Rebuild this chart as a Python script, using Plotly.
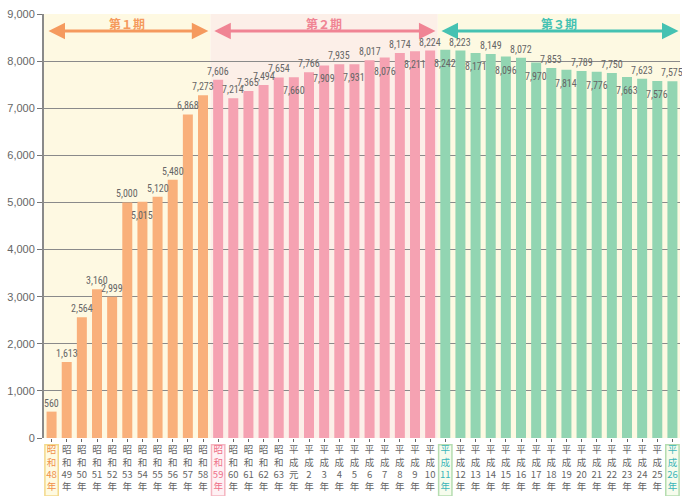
import plotly.graph_objects as go

# ---- data ----
eras = ["昭和"] * 16 + ["平成"] * 26
years = [str(y) for y in range(48, 64)] + ["元"] + [str(y) for y in range(2, 27)]
values = [560, 1613, 2564, 3160, 2999, 5000, 5015, 5120, 5480, 6868, 7273,
          7606, 7214, 7365, 7494, 7654, 7660, 7766, 7909, 7935, 7931, 8017, 8076, 8174, 8211, 8224,
          8242, 8223, 8171, 8149, 8096, 8072, 7970, 7853, 7814, 7789, 7776, 7750, 7663, 7623, 7576, 7575]
period_names = ["第１期", "第２期", "第３期"]
period_lengths = [11, 15, 16]
# label position: 1 = above bar top, 0 = below bar top
label_above = [1, 1, 1, 1, 1, 1, 0, 1, 1, 1, 1,
               1, 1, 1, 1, 1, 0, 1, 0, 1, 0, 1, 0, 1, 0, 1,
               0, 1, 0, 1, 0, 1, 0, 1, 0, 1, 0, 1, 0, 1, 0, 1]
highlight = {0: "#F0904A", 11: "#EE7088", 26: "#3BB5B8", 41: "#3BB5B8"}

# ---- styles ----
bar_colors_p = ["#F9B07B", "#F5A2B2", "#92D5B2"]
bg_colors_p = ["#FEF9E2", "#FCEFE8", "#FDF9E2"]
arrow_colors_p = ["#F59A5E", "#F08494", "#45C2B2"]
box_colors = {0: ("#F3D98A", "rgba(254,246,205,0.6)"), 11: ("#F5B5C0", "rgba(253,232,236,0.6)"),
              26: ("#B5DDB0", "rgba(240,250,225,0.6)"), 41: ("#B5DDB0", "rgba(240,250,225,0.6)")}
label_font = dict(family="Liberation Sans Narrow, Roboto Condensed, Liberation Sans", size=10, color="#666666")

n = len(values)
x = list(range(n))
period_of = []
for p, L in enumerate(period_lengths):
    period_of += [p] * L

ticktext = []
for i, (e, yv) in enumerate(zip(eras, years)):
    parts = [e[0], e[1], yv, "年"]
    if i in highlight:
        parts = [f'<span style="color:{highlight[i]}">{s}</span>' for s in parts]
    ticktext.append("<br>".join(parts))

fig = go.Figure()
fig.add_trace(go.Bar(
    x=x, y=values,
    marker=dict(color=[bar_colors_p[p] for p in period_of], line=dict(width=0)),
    width=0.66, hoverinfo="skip", showlegend=False,
))

shapes = []
annotations = []
start = 0
for p, L in enumerate(period_lengths):
    x0, x1 = start - 0.5, start + L - 0.5
    shapes.append(dict(type="rect", xref="x", yref="paper", x0=x0, x1=x1, y0=0, y1=1,
                       fillcolor=bg_colors_p[p], line=dict(width=0), layer="below"))
    ax0 = x0 + (0.2 if p == 0 else 0.15)
    ax1 = x1 - (0.15 if p < 2 else 0.1)
    annotations.append(dict(x=ax1, y=8640, ax=ax0, ay=8640, xref="x", yref="y", axref="x", ayref="y",
                            text="", showarrow=True, arrowhead=2, arrowside="end+start",
                            arrowsize=1.1, arrowwidth=3, arrowcolor=arrow_colors_p[p]))
    annotations.append(dict(x=(x0 + x1) / 2, y=8800, xref="x", yref="y", text=f"<b>{period_names[p]}</b>",
                            showarrow=False, font=dict(family="Noto Sans CJK JP", size=12, color=arrow_colors_p[p])))
    start += L

for i, (v, a) in enumerate(zip(values, label_above)):
    annotations.append(dict(x=i, y=v, xref="x", yref="y", text=f"{v:,}", showarrow=False,
                            yanchor="bottom" if a else "top", yshift=1 if a else -6,
                            font=label_font))

for i, (bc, fc) in box_colors.items():
    shapes.append(dict(type="rect", xref="paper", yref="paper",
                       x0=(i + 0.06) / n, x1=(i + 0.94) / n, y0=-0.137, y1=-0.016,
                       line=dict(color=bc, width=1.5), fillcolor=fc, layer="below"))

fig.update_layout(
    width=682, height=496,
    margin=dict(l=44, r=2, t=14, b=58, autoexpand=False),
    paper_bgcolor="white", plot_bgcolor="white",
    bargap=0.34,
    shapes=shapes, annotations=annotations,
    xaxis=dict(range=[-0.5, n - 0.5], tickmode="array", tickvals=x, ticktext=ticktext,
               tickangle=0, ticks="outside", ticklen=3, tickcolor="#666", showgrid=False,
               showline=False, zeroline=False, automargin=False, ticklabelstandoff=0,
               tickfont=dict(family="Noto Sans CJK JP", size=9.5, color="#666666")),
    yaxis=dict(range=[0, 9000], tickvals=list(range(0, 9001, 1000)), tickformat=",",
               ticks="outside", ticklen=5, tickcolor="#777", showgrid=True, gridcolor="#8a8a8a",
               gridwidth=1, showline=True, linecolor="#8a8a8a", linewidth=2, zeroline=False,
               automargin=False,
               tickfont=dict(family="Liberation Sans Narrow, Liberation Sans", size=11, color="#666666")),
)

fig.write_html("out.html", config={"displayModeBar": False},
               post_script="document.body.style.margin='0';")
